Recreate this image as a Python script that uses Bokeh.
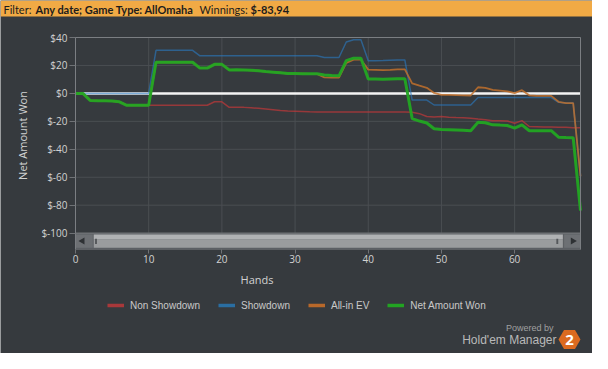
from bokeh.plotting import figure
from bokeh.models import Range1d, FixedTicker, Legend, LegendItem, LinearAxis
from bokeh.core.properties import value
from bokeh.embed import file_html
from bokeh.resources import INLINE
import math

# ---------------- data ----------------
hands = list(range(70))
net_won = [0, 0, -5, -5.2, -5.3, -5.5, -6, -8.5, -8.5, -8.5,
           -8.5, 22.3, 22.3, 22.3, 22.3, 22.3, 22.3, 18.1, 18.1, 20.8,
           20.8, 16.8, 16.9, 16.8, 16.5, 16.2, 15.6, 15.2, 14.8, 14.2,
           14.2, 14.1, 14.0, 14.0, 13.2, 12.8, 12.6, 23.5, 25.2, 25.2,
           10.3, 10.3, 10.1, 10.3, 10.5, 10.5, -18.0, -19.8, -21.2, -25.3,
           -25.8, -26.0, -26.2, -26.4, -26.7, -20.7, -21.0, -22.5, -22.7, -23.0,
           -24.8, -22.5, -26.7, -26.7, -26.7, -26.7, -31.3, -31.6, -31.7, -83.94]
non_showdown = [0, 0, -5, -5.2, -5.3, -5.5, -6, -8.5, -8.5, -8.5,
                -8.5, -8.5, -8.5, -8.5, -8.5, -8.5, -8.5, -8.5, -8.5, -6.0,
                -6.0, -10.0, -10.0, -10.0, -10.3, -10.7, -11.2, -11.7, -12.2, -12.6,
                -12.8, -13.0, -13.2, -13.3, -13.3, -13.3, -13.3, -13.3, -13.3, -13.3,
                -13.3, -13.3, -13.3, -13.3, -13.3, -13.3, -13.5, -14.5, -16.5, -16.8,
                -16.6, -17.0, -17.3, -17.5, -17.8, -18.4, -18.8, -19.5, -19.5, -19.8,
                -21.4, -19.5, -23.7, -23.8, -24.0, -24.1, -24.2, -24.3, -24.5, -24.6]
showdown = [0, 0, 0, 0, 0, 0, 0, 0, 0, 0,
            0, 30.8, 30.8, 30.8, 30.8, 30.8, 30.8, 26.9, 26.9, 26.9,
            26.9, 26.9, 26.9, 26.9, 26.9, 26.9, 26.9, 26.9, 26.9, 26.9,
            26.9, 26.9, 26.9, 26.9, 25.7, 25.7, 25.7, 36.8, 38.4, 38.4,
            23.4, 23.4, 23.5, 23.8, 23.9, 23.9, -4.8, -4.8, -4.8, -8.3,
            -8.3, -8.3, -8.3, -8.3, -8.3, -3.0, -3.0, -3.0, -3.0, -3.0,
            -3.0, -3.0, -3.0, -3.0, -3.0, -3.0, -6.4, -6.9, -6.9, -59.3]
allin_ev = [0, 0, -5, -5.2, -5.3, -5.5, -6, -8.5, -8.5, -8.5,
            -8.5, 22.3, 22.3, 22.3, 22.3, 22.3, 22.3, 18.1, 18.1, 20.8,
            20.8, 16.8, 16.9, 16.8, 16.5, 16.2, 15.6, 15.2, 14.8, 14.2,
            14.2, 14.1, 14.0, 14.0, 11.5, 11.3, 11.3, 21.8, 24.1, 24.1,
            17.0, 16.8, 16.6, 16.8, 17.2, 17.2, 7.2, 5.5, 4.0, 0.3,
            -1.0, -1.1, -1.2, -1.4, -1.5, 4.4, 4.0, 2.5, 2.0, 1.5,
            0.2, 2.3, -1.4, -1.7, -1.8, -1.8, -6.0, -6.9, -6.9, -59.3]

series_names = ["Non Showdown", "Showdown", "All-in EV", "Net Amount Won"]
y_ticks = [-100, -80, -60, -40, -20, 0, 20, 40]
y_tick_labels = ["$-100", "$-80", "$-60", "$-40", "$-20", "$0", "$20", "$40"]
x_ticks = [0, 10, 20, 30, 40, 50, 60]
header_parts = [("Filter:", "normal"), ("Any date; Game Type: AllOmaha", "bold"),
                ("Winnings:", "normal"), ("$-83,94", "bold")]

# ---------------- geometry / style ----------------
W, H = 592, 353
X0, X1 = 0, 69            # plotted hand range
Y0, Y1 = -111.7, 40       # plotted money range (incl. scrollbar strip)
BG = "#363a3e"
GRID = "#4a4e52"
BORDER = "#7b7e82"
TXT = "#d2d2d2"
ORANGE = "#f1aa45"

p = figure(width=W, height=H,
           x_range=Range1d(-10.2475, 70.6396), y_range=Range1d(-186.119, 66.476),
           output_backend="svg", toolbar_location=None, min_border=0,
           background_fill_color=BG, border_fill_color=BG, outline_line_color=None)
p.extra_x_ranges = {"px": Range1d(0, W)}
p.extra_y_ranges = {"px": Range1d(H, 0)}
p.grid.visible = False

# axes placed at the edges of the plot area
yax = p.yaxis[0]
yax.fixed_location = X0
yax.ticker = FixedTicker(ticks=y_ticks)
yax.major_label_overrides = {t: l for t, l in zip(y_ticks, y_tick_labels)}
yax.axis_label = "Net Amount Won"
xax = p.xaxis[0]
xax.fixed_location = Y0
xax.bounds = (X0, X1)
xax.ticker = FixedTicker(ticks=x_ticks)
for ax in (xax, yax):
    ax.major_label_text_font = "Open Sans"
    ax.major_label_text_font_size = "10px"
    ax.major_label_text_color = TXT
    ax.axis_label_text_font = "Open Sans"
    ax.axis_label_text_font_size = "11px"
    ax.axis_label_text_font_style = "normal"
    ax.axis_label_text_color = TXT
    ax.minor_tick_line_color = None
    ax.major_tick_in = 0
    ax.major_tick_line_color = "#6f7276"
yax.bounds = (-100, Y1)
yax.major_tick_out = 6
yax.major_label_standoff = 2
yax.axis_label_standoff = 8
yax.axis_line_color = BORDER
xax.major_tick_out = 4
xax.major_label_standoff = 2
xax.axis_line_color = "#5d6064"
hands_axis = LinearAxis(fixed_location=Y0, bounds=(0, 49.6), ticker=FixedTicker(ticks=[]),
                        axis_label="Hands", axis_line_color=None,
                        major_tick_line_color=None, minor_tick_line_color=None,
                        axis_label_standoff=22, axis_label_text_font="Open Sans",
                        axis_label_text_font_size="11px", axis_label_text_font_style="normal",
                        axis_label_text_color=TXT)
p.add_layout(hands_axis, "below")

# grid lines of the plot area, from the tick lists
p.segment(x0=x_ticks[1:], x1=x_ticks[1:], y0=-100, y1=Y1, line_color=GRID, line_width=1)
p.segment(x0=X0, x1=X1, y0=y_ticks, y1=y_ticks, line_color=GRID, line_width=1)

# scrollbar strip at the foot of the plot area (decoration)
p.quad(left=[X0], right=[X1], bottom=[Y0], top=[-100], fill_color="#5d6064",
       line_color=None)
p.segment(x0=[X0], x1=[X1], y0=[-100], y1=[-100], line_color="#7b7e82", line_width=1)
p.quad(left=[0.05, 66.76], right=[2.36, 68.95], bottom=[-110.5, -110.5], top=[-100.9, -100.9],
       fill_color="#6d7074", line_color=None)
p.quad(left=[2.49], right=[66.59], bottom=[-110.5], top=[-104.3], fill_color="#9a9c9e",
       line_color=None)
p.quad(left=[2.49], right=[66.59], bottom=[-104.3], top=[-100.9], fill_color="#b0b2b4",
       line_color=None)
p.quad(left=[2.67, 65.7], right=[2.93, 65.96], bottom=[-107.8, -107.8], top=[-104.0, -104.0],
       fill_color="#55585b", line_color=None)
p.scatter(x=[0.95, 67.95], y=[-105.6, -105.6], marker="triangle", size=7,
          angle=[math.pi / 2, -math.pi / 2], fill_color="#2e3134", line_color=None)

# series
p.segment(x0=[hands[0]], x1=[hands[-1]], y0=[0], y1=[0], line_color="#f4f4f4", line_width=2.5)
p.line(hands, non_showdown, line_color="#b8383a", line_alpha=0.75, line_width=1.5)
p.line(hands, showdown, line_color="#2a7cc4", line_alpha=0.6, line_width=1.5)
p.line(hands, allin_ev, line_color="#c0702c", line_alpha=0.85, line_width=1.8)
p.line(hands, net_won, line_color="#22a622", line_alpha=0.95, line_width=3)

# plot area border
p.quad(left=[X0], right=[X1], bottom=[Y0], top=[Y1], fill_color=None,
       line_color=BORDER, line_width=1)

# legend (swatch renderers hold a single point, so they draw nothing in the plot)
leg_colors = ["#a8383a", "#2a6ea2", "#b8682a", "#22a322"]
first_vals = [non_showdown[0], showdown[0], allin_ev[0], net_won[0]]
items = []
for name, c, v in zip(series_names, leg_colors, first_vals):
    r = p.line(x=[hands[0]], y=[v], line_color=c, line_width=3.5)
    items.append(LegendItem(label=name, renderers=[r]))
legend = Legend(items=items, orientation="horizontal", location=(107, 38),
                glyph_width=17, glyph_height=20, label_height=20, label_standoff=6,
                spacing=18, padding=0, margin=0, border_line_color=None,
                background_fill_alpha=0, label_text_font="Liberation Sans",
                label_text_font_size="10px", label_text_color="#c9c9c9")
p.add_layout(legend)

# header bar (pixel coordinates)
p.quad(left=[0], right=[W], top=[0], bottom=[16], fill_color=ORANGE, line_color=None,
       x_range_name="px", y_range_name="px")
head_x = [3, 35, 199, 250]
for (t, st), hx in zip(header_parts, head_x):
    p.text(x=[hx], y=[8.5], text=[t], text_font=value("Lato"), text_font_size="11px",
           text_font_style=st, text_color="#1c1c1c", text_baseline="middle",
           x_range_name="px", y_range_name="px")

# branding
p.text(x=[553], y=[327], text=["Powered by"], text_font=value("Liberation Sans"),
       text_font_size="9px", text_color="#a0a0a0", text_align="right",
       text_baseline="middle", x_range_name="px", y_range_name="px")
p.text(x=[556], y=[339], text=["Hold'em Manager"], text_font=value("Liberation Sans"),
       text_font_size="12px", text_color="#b9b9b9", text_align="right",
       text_baseline="middle", x_range_name="px", y_range_name="px")
cx, cy, rr = 569, 339, 11
p.patch(x=[cx + rr * math.cos(math.radians(a)) for a in range(0, 360, 60)],
        y=[cy + rr * math.sin(math.radians(a)) for a in range(0, 360, 60)],
        fill_color="#db6a20", line_color=None, x_range_name="px", y_range_name="px")
p.text(x=[cx], y=[cy], text=["2"], text_font=value("Open Sans"), text_font_size="15px",
       text_font_style="bold", text_color="white", text_align="center",
       text_baseline="middle", x_range_name="px", y_range_name="px")

open("out.html", "w").write(file_html(p, INLINE))
